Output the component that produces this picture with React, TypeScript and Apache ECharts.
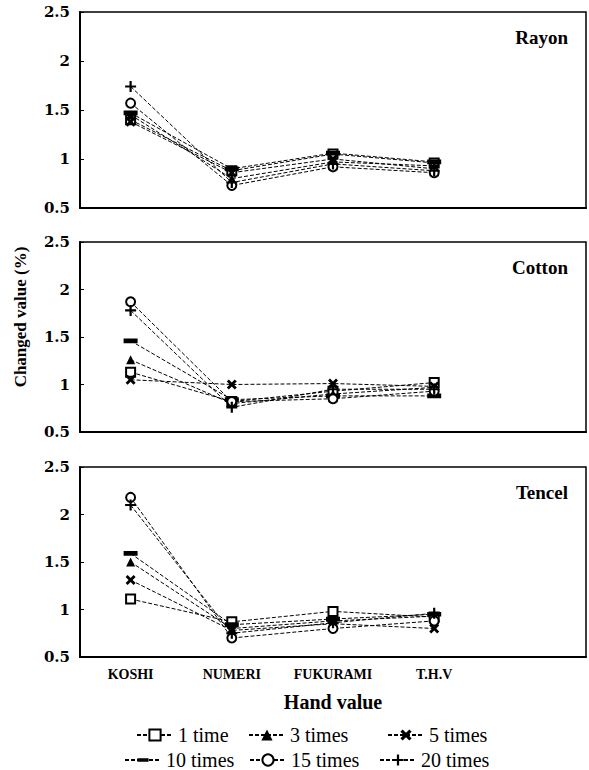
import React, { useEffect, useRef } from "react";
import * as echarts from "echarts";

const categories = ["KOSHI", "NUMERI", "FUKURAMI", "T.H.V", ""];
const seriesNames = ["1 time", "3 times", "5 times", "10 times", "15 times", "20 times"];
const panelNames = ["Rayon", "Cotton", "Tencel"];
const yTicks = { min: 0.5, max: 2.5, interval: 0.5 };

// Rayon
const rayon1 = [1.4, 0.88, 1.05, 0.96];
const rayon3 = [1.45, 0.8, 0.97, 0.93];
const rayon5 = [1.38, 0.86, 1.0, 0.9];
const rayon10 = [1.47, 0.9, 1.06, 0.97];
const rayon15 = [1.57, 0.73, 0.92, 0.86];
const rayon20 = [1.74, 0.76, 0.95, 0.88];
// Cotton
const cotton1 = [1.13, 0.82, 0.93, 1.02];
const cotton3 = [1.26, 0.8, 0.9, 0.97];
const cotton5 = [1.05, 1.0, 1.01, 0.98];
const cotton10 = [1.46, 0.84, 0.88, 0.88];
const cotton15 = [1.87, 0.82, 0.85, 0.93];
const cotton20 = [1.78, 0.76, 0.95, 0.95];
// Tencel
const tencel1 = [1.11, 0.87, 0.98, 0.92];
const tencel3 = [1.5, 0.8, 0.88, 0.93];
const tencel5 = [1.31, 0.78, 0.85, 0.8];
const tencel10 = [1.59, 0.84, 0.9, 0.95];
const tencel15 = [2.18, 0.7, 0.8, 0.88];
const tencel20 = [2.1, 0.75, 0.86, 0.96];

const panelData = [
  [rayon1, rayon3, rayon5, rayon10, rayon15, rayon20],
  [cotton1, cotton3, cotton5, cotton10, cotton15, cotton20],
  [tencel1, tencel3, tencel5, tencel10, tencel15, tencel20],
];

const SERIF = "Liberation Serif";

const symbolDefs: any[] = [
  { symbol: "rect", symbolSize: 9, itemStyle: { color: "#fff", borderColor: "#000", borderWidth: 2 } },
  { symbol: "triangle", symbolSize: 9, itemStyle: { color: "#000" } },
  {
    symbol: "path://M0,2 L2,0 L5,3 L8,0 L10,2 L7,5 L10,8 L8,10 L5,7 L2,10 L0,8 L3,5 Z",
    symbolSize: 10,
    itemStyle: { color: "#000" },
  },
  {
    symbol: "path://M0,4 H12 V8 H0 Z M6,0 L6,0 Z M6,12 L6,12 Z",
    symbolSize: 14,
    itemStyle: { color: "#000" },
  },
  { symbol: "circle", symbolSize: 9, itemStyle: { color: "#fff", borderColor: "#000", borderWidth: 2 } },
  {
    symbol: "path://M4,0 H6 V4 H10 V6 H6 V10 H4 V6 H0 V4 H4 Z",
    symbolSize: 11,
    itemStyle: { color: "#000" },
  },
];

const gridTops = [12, 242, 467];
const gridHeights = [196, 190, 190];

export default function App() {
  const ref = useRef<HTMLDivElement>(null);
  useEffect(() => {
    if (!ref.current) return;
    const chart = echarts.init(ref.current, undefined, { renderer: "svg" });

    const grid = gridTops.map((t, i) => ({
      left: 80,
      top: t,
      width: 506,
      height: gridHeights[i],
      show: true,
      borderColor: "#000",
      borderWidth: 1.5,
      backgroundColor: "transparent",
    }));

    const xAxis = gridTops.map((_, i) => ({
      type: "category",
      gridIndex: i,
      data: categories,
      boundaryGap: true,
      axisLine: { lineStyle: { color: "#000", width: 2 } },
      axisTick: { inside: true, length: 5, lineStyle: { color: "#000" } },
      axisLabel: {
        show: i === 2,
        interval: 0,
        margin: 10,
        fontFamily: SERIF,
        fontWeight: "bold",
        fontSize: 14,
        color: "#000",
      },
      splitLine: { show: false },
      name: i === 2 ? "Hand value" : "",
      nameLocation: "middle",
      nameGap: 35,
      nameTextStyle: { fontFamily: SERIF, fontWeight: "bold", fontSize: 20, color: "#000" },
    }));

    const yAxis = gridTops.map((_, i) => ({
      type: "value",
      gridIndex: i,
      min: yTicks.min,
      max: yTicks.max,
      interval: yTicks.interval,
      axisLine: { show: true, lineStyle: { color: "#000", width: 2 } },
      axisTick: { show: true, inside: true, length: 4, lineStyle: { color: "#000" } },
      axisLabel: {
        margin: 10,
        fontFamily: "DejaVu Serif",
        fontWeight: "bold",
        fontSize: 15,
        color: "#000",
        formatter: (v: number) => String(v),
      },
      splitLine: { show: false },
    }));

    const series: any[] = [];
    panelData.forEach((panel, p) => {
      panel.forEach((vals, s) => {
        series.push({
          type: "line",
          name: seriesNames[s],
          xAxisIndex: p,
          yAxisIndex: p,
          data: vals,
          ...symbolDefs[s],
          showSymbol: true,
          lineStyle: { color: "#000", width: 1, type: [4, 2] },
          z: 3,
        });
      });
    });

    const legendPos = [
      { left: 136, top: 725 },
      { left: 248, top: 725 },
      { left: 387, top: 725 },
      { left: 124, top: 750 },
      { left: 249, top: 750 },
      { left: 379, top: 750 },
    ];
    const legend = seriesNames.map((n, i) => ({
      data: [n],
      left: legendPos[i].left,
      top: legendPos[i].top,
      padding: 0,
      itemWidth: 36,
      itemHeight: 14,
      selectedMode: false,
      textStyle: { fontFamily: SERIF, fontSize: 20, color: "#000" },
    }));

    const title = panelNames.map((n, i) => ({
      text: n,
      right: 16,
      top: gridTops[i] + 11,
      textStyle: { fontFamily: SERIF, fontWeight: "bold", fontSize: 19, color: "#000" },
    }));

    chart.setOption({
      animation: false,
      backgroundColor: "#fff",
      title,
      grid,
      xAxis,
      yAxis,
      series,
      legend,
      graphic: [
        {
          type: "text",
          x: 20,
          y: 317,
          rotation: Math.PI / 2,
          style: {
            text: "Changed value (%)",
            fontFamily: SERIF,
            fontWeight: "bold",
            fontSize: 17,
            fill: "#000",
            align: "center",
            verticalAlign: "middle",
          },
        },
      ],
    });
    return () => chart.dispose();
  }, []);
  return (
    <div
      ref={ref}
      style={{ position: "absolute", left: 0, top: 0, width: 589, height: 770, background: "#fff" }}
    />
  );
}
